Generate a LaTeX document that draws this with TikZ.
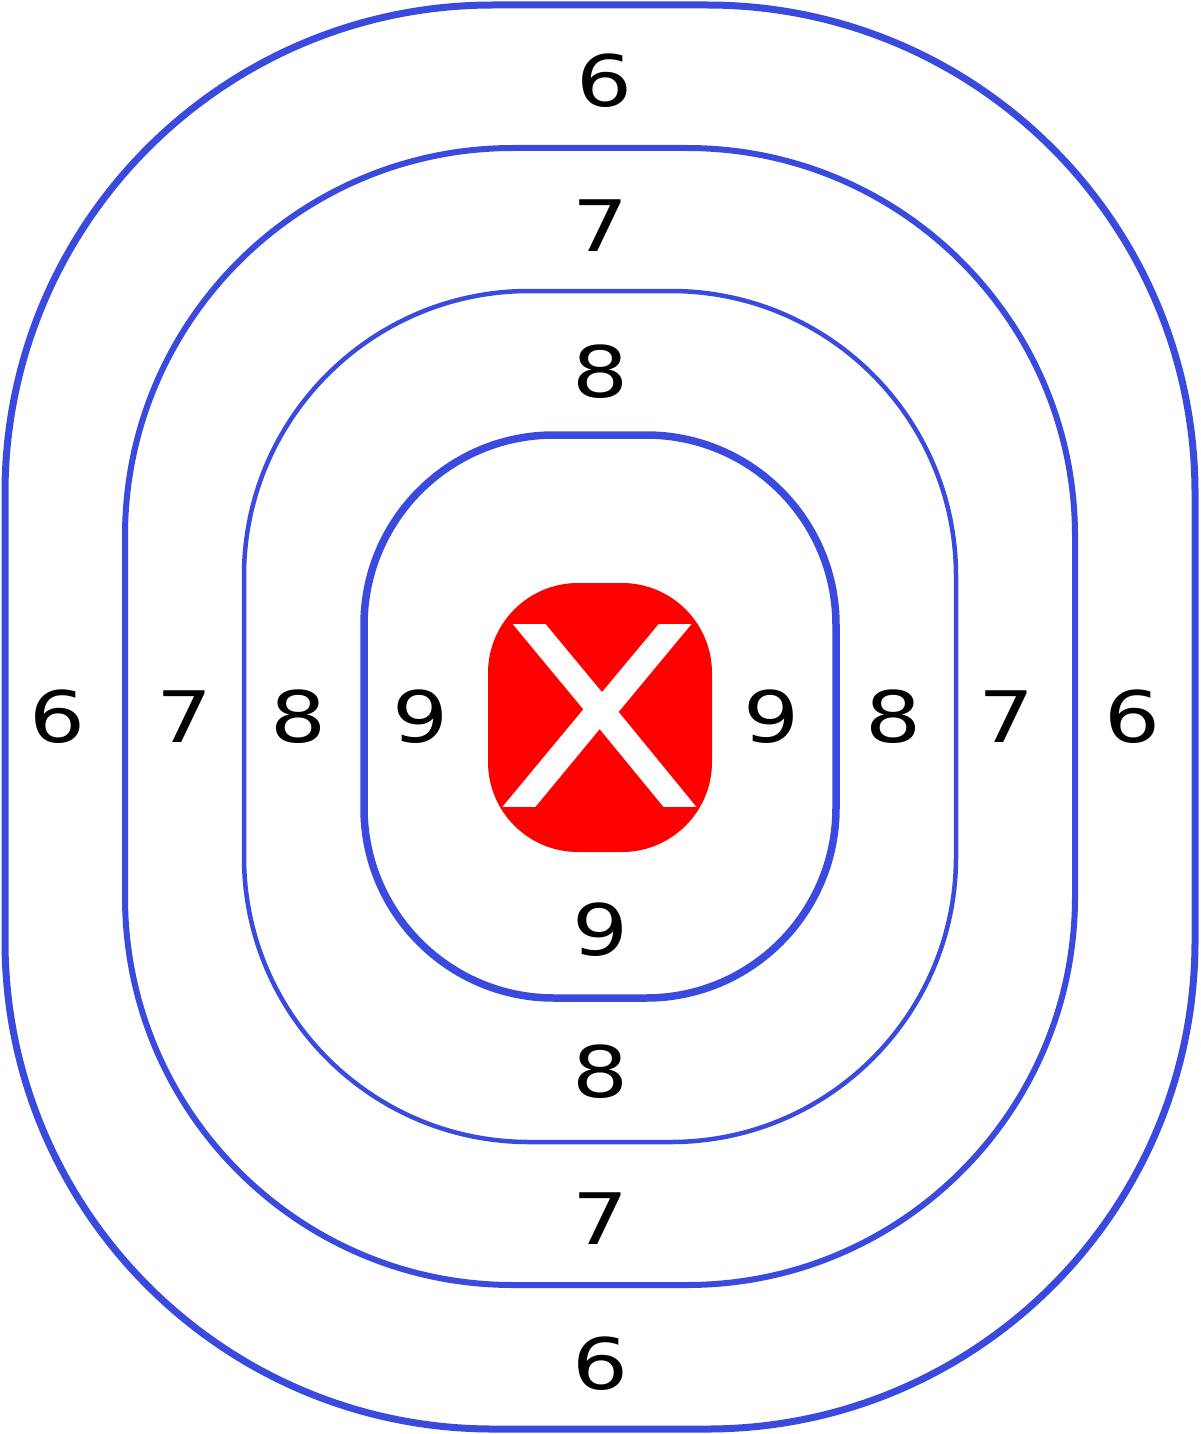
\documentclass[tikz,border=0pt]{standalone}
\usepackage{fontspec}
\setmainfont{DejaVu Sans}
\definecolor{ringblue}{RGB}{58,74,222}
\definecolor{targetred}{RGB}{255,0,0}
\newcommand{\wide}[1]{\scalebox{1.24}[1]{#1}}
\begin{document}
\begin{tikzpicture}[x=1pt,y=-1pt,
  ring/.style={draw=ringblue},
  num/.style={inner sep=0pt, text=black, font=\fontsize{71}{71}\selectfont},
  bigx/.style={inner sep=0pt, text=white, font=\fontsize{251}{251}\selectfont}]
\useasboundingbox (0,0) rectangle (1200,1434);
\fill[white] (0,0) rectangle (1200,1434);
% rings
\draw[ring, line width=7pt, rounded corners=488pt] (5,5) rectangle (1195,1429);
\draw[ring, line width=6pt, rounded corners=388pt] (125,148) rectangle (1075,1285);
\draw[ring, line width=4.5pt, rounded corners=285pt] (244,291) rectangle (956,1142);
\draw[ring, line width=7.5pt, rounded corners=190pt] (364,435) rectangle (836,998);
% centre
\fill[targetred, rounded corners=90pt] (488,583) rectangle (712,852);
\node[bigx] (xmark) at (600,716.5) {\wide{X}};
% top labels
\node[num] (t6) at (604,81) {\wide{6}};
\node[num] (t7) at (600,226) {\wide{7}};
\node[num] (t8) at (600,372) {\wide{8}};
% bottom labels
\node[num] (b9) at (600,930) {\wide{9}};
\node[num] (b8) at (600,1072) {\wide{8}};
\node[num] (b7) at (600,1219) {\wide{7}};
\node[num] (b6) at (600,1364) {\wide{6}};
% left labels
\node[num] (l6) at (58,717) {\wide{6}};
\node[num] (l7) at (185,717) {\wide{7}};
\node[num] (l8) at (299,717) {\wide{8}};
\node[num] (l9) at (421,717) {\wide{9}};
% right labels
\node[num] (r9) at (771,717) {\wide{9}};
\node[num] (r8) at (893,717) {\wide{8}};
\node[num] (r7) at (1006,717) {\wide{7}};
\node[num] (r6) at (1132,717) {\wide{6}};
\end{tikzpicture}
\end{document}
